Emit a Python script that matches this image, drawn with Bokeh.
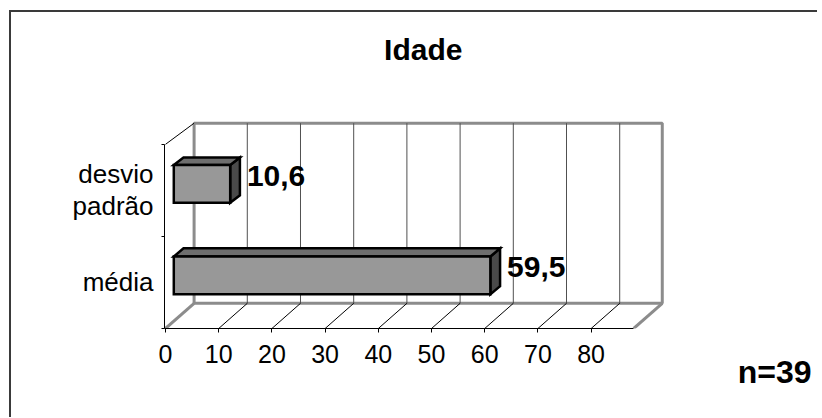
from bokeh.plotting import figure
from bokeh.models import Range1d, LinearAxis, FixedTicker, Label, Title, ColumnDataSource
from bokeh.embed import file_html
from bokeh.resources import INLINE
from bokeh.core.properties import value

# ---------------- data ----------------
categories = ["média", "desvio padrão"]
category_labels = ["média", "desvio\npadrão"]
values = [59.5, 10.6]
x_ticks = [0, 10, 20, 30, 40, 50, 60, 70, 80]
axis_max = 88
title_text = "Idade"
note_text = "n=39"

# ---------------- layout / style constants ----------------
W, H = 810, 405
RIGHT = 6
PAGE_X0, PAGE_Y0 = 11, 12          # canvas origin on the page (css margin + border)
FRONT_LEFT_PX = 164                # page x of the front vertical axis
FRONT_BASE_PX = 326                # page y of the front base line
PX_PER_UNIT = 5.304
PX_PER_CAT = 91.5
LEFT = FRONT_LEFT_PX - PAGE_X0
BOTTOM = H - (FRONT_BASE_PX - PAGE_Y0)
DX = 28.5 / PX_PER_UNIT            # 3-D depth offset in value units
DY_BOT = 25 / PX_PER_CAT           # 3-D depth offset (category units) at the floor
DY_TOP = 21 / PX_PER_CAT           # 3-D depth offset (category units) at the top
F0, F1 = 0.29, 0.63                # depth fractions of bar front / back faces
HALF = 0.205                       # half bar thickness (category units)
FONT = "Liberation Sans"

n = len(categories)
y_lo, y_hi = -0.5, n - 0.5


def depth_y(y):
    return DY_BOT + (y - y_lo) / (y_hi - y_lo) * (DY_TOP - DY_BOT)


x_start = -1 / PX_PER_UNIT
x_end = x_start + (W - LEFT - RIGHT) / PX_PER_UNIT
y_start = y_lo
y_end = y_start + (H - BOTTOM) / PX_PER_CAT

p = figure(width=W, height=H, output_backend="svg", toolbar_location=None,
           x_range=Range1d(x_start, x_end), y_range=Range1d(y_start, y_end),
           x_axis_type=None, y_axis_type=None,
           min_border_left=LEFT, min_border_bottom=BOTTOM,
           min_border_top=0, min_border_right=RIGHT)
p.outline_line_color = None
p.background_fill_color = "white"
p.border_fill_color = "white"
p.styles = {"margin-left": "9px", "margin-top": "10px",
            "border-left": "2px solid #3a3a3a", "border-top": "2px solid #3a3a3a",
            "box-sizing": "content-box",
            "clip-path": "inset(0px 4px 0px 0px)"}

# ---------------- axes ----------------
xaxis = LinearAxis(ticker=FixedTicker(ticks=x_ticks, minor_ticks=[]),
                   bounds=(x_start, axis_max))
xaxis.axis_line_color = "black"
xaxis.axis_line_width = 1
xaxis.major_tick_out = 4
xaxis.major_tick_in = 0
xaxis.major_tick_line_color = "black"
xaxis.minor_tick_line_color = None
xaxis.major_label_standoff = 12
xaxis.major_label_text_font = FONT
xaxis.major_label_text_font_size = "25px"
xaxis.major_label_text_color = "black"
p.add_layout(xaxis, "below")

yaxis = LinearAxis(ticker=FixedTicker(ticks=list(range(n)),
                                      minor_ticks=[i - 0.5 for i in range(n + 1)]),
                   bounds=(y_lo, y_hi))
yaxis.major_label_overrides = {i: lab for i, lab in enumerate(category_labels)}
yaxis.axis_line_color = "black"
yaxis.major_tick_line_color = None
yaxis.major_tick_out = 0
yaxis.major_tick_in = 0
yaxis.minor_tick_line_color = "black"
yaxis.minor_tick_out = 3
yaxis.minor_tick_in = 0
yaxis.major_label_standoff = 8
yaxis.major_label_text_font = FONT
yaxis.major_label_text_font_size = "26px"
yaxis.major_label_text_color = "black"
yaxis.major_label_text_line_height = 1.07
p.add_layout(yaxis, "left")

note = Title(text=note_text, align="right", offset=6,
             text_font=FONT, text_font_style="bold", text_font_size="32px",
             text_color="black")
if "standoff" in Title.properties():
    note.standoff = -28
p.add_layout(note, "below")

# ---------------- back wall ----------------
wall_b, wall_t = y_lo + depth_y(y_lo), y_hi + depth_y(y_hi)
p.quad(left=[DX], right=[axis_max + DX], bottom=[wall_b], top=[wall_t],
       fill_color="white", line_color="#8c8c8c", line_width=3)
m = len(x_ticks) - 1
p.segment(x0=[t + DX for t in x_ticks[1:]], y0=[wall_b] * m,
          x1=[t + DX for t in x_ticks[1:]], y1=[wall_t] * m,
          line_color="#505050", line_width=1)

# ---------------- floor ----------------
p.segment(x0=x_ticks[1:], y0=[y_lo] * m,
          x1=[t + DX for t in x_ticks[1:]], y1=[wall_b] * m,
          line_color="black", line_width=1)
p.segment(x0=[0, axis_max], y0=[y_lo, y_lo], x1=[DX, axis_max + DX], y1=[wall_b, wall_b],
          line_color="#8c8c8c", line_width=3)
# left wall top edge
p.segment(x0=[0], y0=[y_hi], x1=[DX], y1=[wall_t], line_color="black", line_width=1)

# ---------------- bars ----------------
front_xs, front_ys, top_xs, top_ys, side_xs, side_ys = [], [], [], [], [], []
lab_x, lab_y = [], []
for c, v in enumerate(values):
    d = depth_y(c)
    x0, x1 = F0 * DX, v + F0 * DX
    b0, t0 = c - HALF + F0 * d, c + HALF + F0 * d
    b1, t1 = c - HALF + F1 * d, c + HALF + F1 * d
    front_xs.append([x0, x1, x1, x0]); front_ys.append([b0, b0, t0, t0])
    top_xs.append([x0, x1, v + F1 * DX, F1 * DX]); top_ys.append([t0, t0, t1, t1])
    side_xs.append([x1, v + F1 * DX, v + F1 * DX, x1]); side_ys.append([b0, b1, t1, t0])
    lab_x.append(v + F1 * DX)
    lab_y.append(c + F0 * d)

p.patches(xs=side_xs, ys=side_ys, fill_color="#4a4a4a", line_color="black",
          line_width=2.5, line_join="miter")
p.patches(xs=top_xs, ys=top_ys, fill_color="#6e6e6e", line_color="black",
          line_width=2.5, line_join="miter")
p.patches(xs=front_xs, ys=front_ys, fill_color="#989898", line_color="black",
          line_width=2.5, line_join="miter")

lab_src = ColumnDataSource(dict(
    x=lab_x, y=lab_y,
    text=[("%.1f" % v).replace(".", ",") for v in values]))
p.text(x="x", y="y", text="text", source=lab_src, x_offset=7, y_offset=-8,
       text_align="left", text_baseline="alphabetic", text_color="black",
       text_font=value(FONT), text_font_style="bold", text_font_size="30px")

# ---------------- title ----------------
p.add_layout(Label(x=(422 - FRONT_LEFT_PX - 1) / PX_PER_UNIT,
                   y=y_lo + (FRONT_BASE_PX - 48.5) / PX_PER_CAT,
                   text=title_text, text_align="center", text_baseline="alphabetic",
                   text_font=FONT, text_font_style="bold", text_font_size="30px",
                   text_color="black"))

open("out.html", "w").write(file_html(p, INLINE))
